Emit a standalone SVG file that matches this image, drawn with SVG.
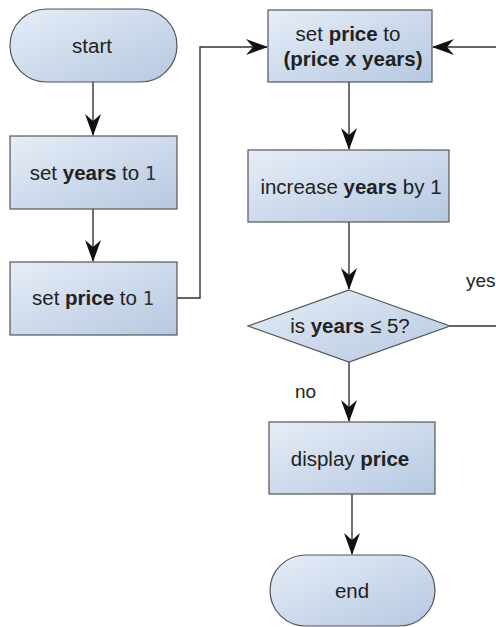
<svg xmlns="http://www.w3.org/2000/svg" width="496" height="627" viewBox="0 0 496 627">
<defs>
<linearGradient id="g" x1="0" y1="0" x2="1" y2="1">
<stop offset="0" stop-color="#e6edf7"/>
<stop offset="1" stop-color="#b6c8e1"/>
</linearGradient>
<marker id="ah" viewBox="0 0 22 16" markerWidth="22" markerHeight="16" refX="21" refY="8" orient="auto" markerUnits="userSpaceOnUse">
<path d="M0,0 L22,8 L0,16 L7,8 Z" fill="#111"/>
</marker>
<style>
.n{fill:url(#g);stroke:#555;stroke-width:1.2}
.t{font-family:"Liberation Sans",Arial,sans-serif;font-size:20.5px;fill:#222;text-anchor:middle}
.b{font-weight:bold}
.m{font-family:"DejaVu Sans Mono","Liberation Mono",monospace;font-size:19px;fill:#333}
.c{fill:none;stroke:#333;stroke-width:1.4}
.l{font-family:"Liberation Sans",Arial,sans-serif;font-size:19px;fill:#222}
</style>
</defs>
<rect width="496" height="627" fill="#fff"/>
<g id="connectors">
<path class="c" d="M93,82 V135" marker-end="url(#ah)"/>
<path class="c" d="M93,209 V261" marker-end="url(#ah)"/>
<path class="c" d="M177,298 H200 V47 H267" marker-end="url(#ah)"/>
<path class="c" d="M349,82 V149" marker-end="url(#ah)"/>
<path class="c" d="M349,222 V289" marker-end="url(#ah)"/>
<path class="c" d="M349,362 V421" marker-end="url(#ah)"/>
<path class="c" d="M352,494 V554" marker-end="url(#ah)"/>
<path class="c" d="M450,326 H520 V47 H433" marker-end="url(#ah)"/>
<text class="l" x="466" y="287">yes</text>
<text class="l" x="295" y="398">no</text>
</g>
<g id="start">
<rect class="n" x="10" y="9" width="167" height="73" rx="36.5"/>
<text class="t" x="92" y="53">start</text>
</g>
<g id="setYears">
<rect class="n" x="10" y="136" width="167" height="73"/>
<text class="t" x="93" y="180">set <tspan class="b">years</tspan> to <tspan class="m">1</tspan></text>
</g>
<g id="setPrice1">
<rect class="n" x="10" y="262" width="167" height="73"/>
<text class="t" x="93" y="305">set <tspan class="b">price</tspan> to <tspan class="m">1</tspan></text>
</g>
<g id="setPriceTimes">
<rect class="n" x="268" y="10" width="164" height="72"/>
<text class="t" x="348" y="41">set <tspan class="b">price</tspan> to</text>
<text class="t b" x="353" y="66">(price x years)</text>
</g>
<g id="increase">
<rect class="n" x="248" y="150" width="201" height="72"/>
<text class="t" x="351" y="194">increase <tspan class="b">years</tspan> by 1</text>
</g>
<g id="decision">
<polygon class="n" points="349,290 450,326 349,362 248,326"/>
<text class="t" x="350" y="333">is <tspan class="b">years</tspan> ≤ 5?</text>
</g>
<g id="display">
<rect class="n" x="269" y="422" width="166" height="72"/>
<text class="t" x="350" y="466">display <tspan class="b">price</tspan></text>
</g>
<g id="end">
<rect class="n" x="270" y="555" width="165" height="71" rx="35.5"/>
<text class="t" x="352" y="598">end</text>
</g>
</svg>
